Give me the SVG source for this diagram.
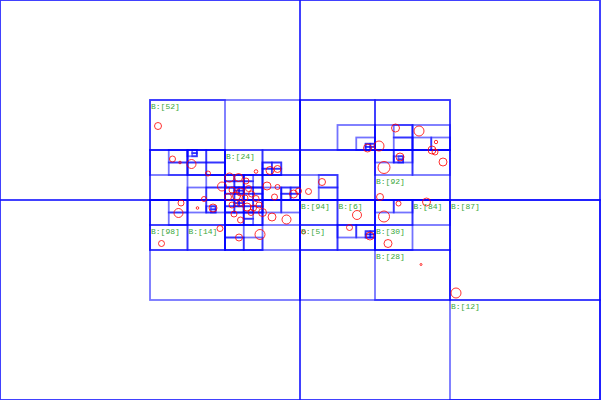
<svg xmlns="http://www.w3.org/2000/svg" width="601" height="400" viewBox="0 0 601 400">
<style>
.c rect{fill:none;stroke:#0000ff;stroke-opacity:.55;stroke-width:1.8}
.p circle{fill:none;stroke:#ff0000;stroke-opacity:.8;stroke-width:1}
.t text{font-family:"Liberation Mono","DejaVu Sans Mono",monospace;font-size:8px;fill:#3aa83a}
</style>
<rect width="601" height="400" fill="#ffffff"/>
<g id="cells" class="c">
<rect x="0" y="0" width="600" height="400"/>
<rect x="0" y="0" width="300" height="200"/><rect x="300" y="0" width="300" height="200"/><rect x="0" y="200" width="300" height="200"/><rect x="300" y="200" width="300" height="200"/>
<rect x="150" y="100" width="150" height="100"/><rect x="300" y="100" width="150" height="100"/><rect x="150" y="200" width="150" height="100"/><rect x="300" y="200" width="150" height="100"/><rect x="450" y="200" width="150" height="100"/><rect x="450" y="300" width="150" height="100"/>
<rect x="150" y="100" width="75" height="50"/><rect x="150" y="150" width="75" height="50"/><rect x="225" y="150" width="75" height="50"/>
<rect x="300" y="100" width="75" height="50"/><rect x="375" y="100" width="75" height="50"/><rect x="300" y="150" width="75" height="50"/><rect x="375" y="150" width="75" height="50"/>
<rect x="150" y="200" width="75" height="50"/><rect x="225" y="200" width="75" height="50"/>
<rect x="300" y="200" width="75" height="50"/><rect x="375" y="200" width="75" height="50"/><rect x="375" y="250" width="75" height="50"/>
<rect x="150" y="150" width="37.5" height="25"/><rect x="187.5" y="150" width="37.5" height="25"/><rect x="187.5" y="175" width="37.5" height="25"/><rect x="225" y="150" width="37.5" height="25"/><rect x="262.5" y="150" width="37.5" height="25"/><rect x="225" y="175" width="37.5" height="25"/><rect x="262.5" y="175" width="37.5" height="25"/>
<rect x="337.5" y="125" width="37.5" height="25"/><rect x="375" y="125" width="37.5" height="25"/><rect x="412.5" y="125" width="37.5" height="25"/><rect x="300" y="175" width="37.5" height="25"/><rect x="375" y="150" width="37.5" height="25"/><rect x="412.5" y="150" width="37.5" height="25"/>
<rect x="150" y="200" width="37.5" height="25"/><rect x="187.5" y="200" width="37.5" height="25"/><rect x="150" y="225" width="37.5" height="25"/><rect x="187.5" y="225" width="37.5" height="25"/><rect x="225" y="200" width="37.5" height="25"/><rect x="262.5" y="200" width="37.5" height="25"/><rect x="225" y="225" width="37.5" height="25"/>
<rect x="300" y="200" width="37.5" height="25"/><rect x="337.5" y="200" width="37.5" height="25"/><rect x="300" y="225" width="37.5" height="25"/><rect x="337.5" y="225" width="37.5" height="25"/><rect x="375" y="200" width="37.5" height="25"/><rect x="412.5" y="200" width="37.5" height="25"/><rect x="375" y="225" width="37.5" height="25"/>
<rect x="168.75" y="150" width="18.75" height="12.5"/><rect x="168.75" y="162.5" width="18.75" height="12.5"/><rect x="187.5" y="150" width="18.75" height="12.5"/><rect x="206.25" y="150" width="18.75" height="12.5"/><rect x="187.5" y="162.5" width="18.75" height="12.5"/><rect x="206.25" y="162.5" width="18.75" height="12.5"/>
<rect x="206.25" y="175" width="18.75" height="12.5"/><rect x="187.5" y="187.5" width="18.75" height="12.5"/><rect x="206.25" y="187.5" width="18.75" height="12.5"/>
<rect x="262.5" y="162.5" width="18.75" height="12.5"/>
<rect x="225" y="175" width="18.75" height="12.5"/><rect x="243.75" y="175" width="18.75" height="12.5"/><rect x="225" y="187.5" width="18.75" height="12.5"/><rect x="243.75" y="187.5" width="18.75" height="12.5"/>
<rect x="262.5" y="187.5" width="18.75" height="12.5"/><rect x="281.25" y="187.5" width="18.75" height="12.5"/>
<rect x="356.25" y="137.5" width="18.75" height="12.5"/><rect x="393.75" y="125" width="18.75" height="12.5"/><rect x="393.75" y="137.5" width="18.75" height="12.5"/><rect x="412.5" y="137.5" width="18.75" height="12.5"/><rect x="431.25" y="137.5" width="18.75" height="12.5"/>
<rect x="318.75" y="175" width="18.75" height="12.5"/><rect x="318.75" y="187.5" width="18.75" height="12.5"/>
<rect x="375" y="150" width="18.75" height="12.5"/><rect x="393.75" y="150" width="18.75" height="12.5"/>
<rect x="168.75" y="200" width="18.75" height="12.5"/><rect x="168.75" y="212.5" width="18.75" height="12.5"/><rect x="187.5" y="200" width="18.75" height="12.5"/><rect x="206.25" y="200" width="18.75" height="12.5"/>
<rect x="225" y="200" width="18.75" height="12.5"/><rect x="243.75" y="200" width="18.75" height="12.5"/><rect x="225" y="212.5" width="18.75" height="12.5"/><rect x="243.75" y="212.5" width="18.75" height="12.5"/>
<rect x="262.5" y="200" width="18.75" height="12.5"/><rect x="281.25" y="200" width="18.75" height="12.5"/>
<rect x="225" y="225" width="18.75" height="12.5"/><rect x="225" y="237.5" width="18.75" height="12.5"/><rect x="243.75" y="237.5" width="18.75" height="12.5"/>
<rect x="337.5" y="225" width="18.75" height="12.5"/><rect x="356.25" y="225" width="18.75" height="12.5"/>
<rect x="375" y="200" width="18.75" height="12.5"/><rect x="393.75" y="200" width="18.75" height="12.5"/>
<rect x="187.5" y="150" width="9.375" height="6.25"/>
<rect x="262.5" y="162.5" width="9.375" height="6.25"/><rect x="271.875" y="162.5" width="9.375" height="6.25"/><rect x="262.5" y="168.75" width="9.375" height="6.25"/><rect x="271.875" y="168.75" width="9.375" height="6.25"/>
<rect x="225" y="175" width="9.375" height="6.25"/><rect x="234.375" y="175" width="9.375" height="6.25"/><rect x="225" y="181.25" width="9.375" height="6.25"/><rect x="234.375" y="181.25" width="9.375" height="6.25"/>
<rect x="243.75" y="175" width="9.375" height="6.25"/><rect x="243.75" y="181.25" width="9.375" height="6.25"/>
<rect x="225" y="187.5" width="9.375" height="6.25"/><rect x="234.375" y="187.5" width="9.375" height="6.25"/><rect x="225" y="193.75" width="9.375" height="6.25"/><rect x="234.375" y="193.75" width="9.375" height="6.25"/>
<rect x="243.75" y="187.5" width="9.375" height="6.25"/><rect x="253.125" y="187.5" width="9.375" height="6.25"/><rect x="243.75" y="193.75" width="9.375" height="6.25"/><rect x="253.125" y="193.75" width="9.375" height="6.25"/>
<rect x="281.25" y="187.5" width="9.375" height="6.25"/><rect x="290.625" y="187.5" width="9.375" height="6.25"/><rect x="281.25" y="193.75" width="9.375" height="6.25"/><rect x="290.625" y="193.75" width="9.375" height="6.25"/>
<rect x="225" y="200" width="9.375" height="6.25"/><rect x="234.375" y="200" width="9.375" height="6.25"/><rect x="225" y="206.25" width="9.375" height="6.25"/><rect x="234.375" y="206.25" width="9.375" height="6.25"/>
<rect x="243.75" y="200" width="9.375" height="6.25"/><rect x="253.125" y="200" width="9.375" height="6.25"/><rect x="243.75" y="206.25" width="9.375" height="6.25"/><rect x="253.125" y="206.25" width="9.375" height="6.25"/>
<rect x="243.75" y="212.5" width="9.375" height="6.25"/><rect x="243.75" y="218.75" width="9.375" height="6.25"/>
<rect x="206.25" y="206.25" width="9.375" height="6.25"/>
<rect x="365.625" y="143.75" width="9.375" height="6.25"/><rect x="393.75" y="156.25" width="9.375" height="6.25"/><rect x="365.625" y="231.25" width="9.375" height="6.25"/>
<rect x="192.1875" y="150" width="4.6875" height="3.125"/><rect x="192.1875" y="153.125" width="4.6875" height="3.125"/>
<rect x="234.375" y="187.5" width="4.6875" height="3.125"/><rect x="239.0625" y="187.5" width="4.6875" height="3.125"/><rect x="234.375" y="190.625" width="4.6875" height="3.125"/><rect x="239.0625" y="190.625" width="4.6875" height="3.125"/>
<rect x="234.375" y="200" width="4.6875" height="3.125"/><rect x="239.0625" y="200" width="4.6875" height="3.125"/><rect x="234.375" y="203.125" width="4.6875" height="3.125"/><rect x="239.0625" y="203.125" width="4.6875" height="3.125"/>
<rect x="210.9375" y="206.25" width="4.6875" height="3.125"/><rect x="210.9375" y="209.375" width="4.6875" height="3.125"/>
<rect x="365.625" y="143.75" width="4.6875" height="3.125"/><rect x="370.3125" y="143.75" width="4.6875" height="3.125"/><rect x="365.625" y="146.875" width="4.6875" height="3.125"/><rect x="370.3125" y="146.875" width="4.6875" height="3.125"/>
<rect x="398.4375" y="156.25" width="4.6875" height="3.125"/><rect x="398.4375" y="159.375" width="4.6875" height="3.125"/>
<rect x="365.625" y="231.25" width="4.6875" height="3.125"/><rect x="370.3125" y="231.25" width="4.6875" height="3.125"/><rect x="365.625" y="234.375" width="4.6875" height="3.125"/><rect x="370.3125" y="234.375" width="4.6875" height="3.125"/>
</g>
<g id="items" class="p">
<circle cx="158" cy="126" r="3.5"/><circle cx="172.5" cy="159" r="3"/><circle cx="180" cy="162.5" r="1.3"/><circle cx="191.5" cy="164" r="4.5"/><circle cx="208" cy="173.5" r="2.5"/>
<circle cx="256" cy="171.5" r="1.8"/><circle cx="270" cy="170.5" r="4"/><circle cx="277.5" cy="169" r="3.5"/>
<circle cx="229.5" cy="177.5" r="4.5"/><circle cx="238.5" cy="177.5" r="4"/><circle cx="246" cy="181" r="3"/><circle cx="222" cy="186.5" r="4.5"/><circle cx="232" cy="190" r="3"/><circle cx="240.5" cy="192" r="4"/><circle cx="248.5" cy="188.5" r="3"/><circle cx="236.5" cy="196" r="4"/><circle cx="228" cy="197" r="3.5"/><circle cx="245" cy="198" r="3"/><circle cx="251.5" cy="194" r="3"/><circle cx="256" cy="198.5" r="3"/>
<circle cx="240" cy="203.5" r="3"/><circle cx="232" cy="205" r="3"/><circle cx="213" cy="208" r="4"/><circle cx="247" cy="207" r="4"/><circle cx="253.5" cy="208" r="3"/><circle cx="259" cy="205" r="3"/><circle cx="234" cy="214" r="3"/><circle cx="251" cy="212.5" r="3"/><circle cx="240.5" cy="220" r="3"/><circle cx="262.5" cy="212.5" r="4"/><circle cx="272" cy="217" r="4"/><circle cx="286.5" cy="219.5" r="4.5"/>
<circle cx="267" cy="186" r="4"/><circle cx="277.5" cy="187" r="2.5"/><circle cx="274.5" cy="197" r="3"/><circle cx="293.5" cy="194" r="4"/><circle cx="298.5" cy="191" r="3"/><circle cx="308.5" cy="191.5" r="3"/><circle cx="322" cy="182" r="3.5"/>
<circle cx="181" cy="203" r="3"/><circle cx="178.5" cy="213" r="4.5"/><circle cx="197.5" cy="208" r="1.3"/><circle cx="204" cy="199" r="2.5"/>
<circle cx="161.5" cy="243.5" r="3"/><circle cx="220" cy="228.5" r="3"/><circle cx="239" cy="237.5" r="3.5"/><circle cx="260" cy="234.5" r="5"/>
<circle cx="395.5" cy="128" r="4"/><circle cx="419" cy="131" r="5"/><circle cx="436" cy="142" r="1.7"/><circle cx="367.5" cy="148" r="4"/><circle cx="379" cy="146" r="5"/><circle cx="400" cy="157" r="4"/><circle cx="432" cy="150" r="4"/><circle cx="435" cy="152" r="3"/><circle cx="443" cy="162" r="4"/><circle cx="384" cy="167.5" r="6"/>
<circle cx="380" cy="197" r="3.5"/><circle cx="398.5" cy="203.5" r="2.5"/><circle cx="426.5" cy="202" r="4"/><circle cx="357" cy="215" r="4.5"/><circle cx="384" cy="216.5" r="5.5"/><circle cx="349.5" cy="227.5" r="3"/><circle cx="370" cy="236" r="4"/><circle cx="388" cy="243.5" r="4"/><circle cx="421" cy="264.5" r="1"/><circle cx="456" cy="293" r="5"/><circle cx="303.5" cy="232" r="2"/>
</g>
<g id="labels" class="t">
<text x="151" y="108.5">B:[52]</text>
<text x="226" y="158.5">B:[24]</text>
<text x="376" y="183.5">B:[92]</text>
<text x="301" y="208.5">B:[94]</text>
<text x="338.5" y="208.5">B:[6]</text>
<text x="413.5" y="208.5">B:[84]</text>
<text x="451" y="208.5">B:[87]</text>
<text x="151" y="233.5">B:[98]</text>
<text x="188.5" y="233.5">B:[14]</text>
<text x="301" y="233.5">B:[5]</text>
<text x="376" y="233.5">B:[30]</text>
<text x="376" y="258.5">B:[28]</text>
<text x="451" y="308.5">B:[12]</text>
</g>
</svg>
